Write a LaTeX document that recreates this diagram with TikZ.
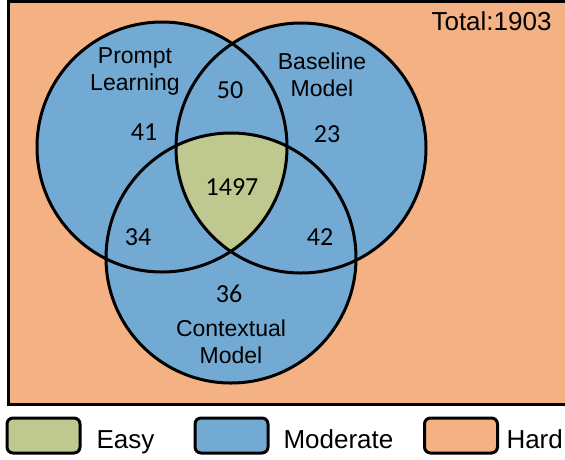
\documentclass[tikz,border=0pt]{standalone}
\usepackage{fontspec}
\setmainfont{Liberation Sans}
\newfontfamily\numfont{Carlito}
\usetikzlibrary{positioning}
\definecolor{hardc}{HTML}{F4B183}
\definecolor{modc}{HTML}{73AAD4}
\definecolor{easyc}{HTML}{BEC88F}

\tikzset{
  setc/.style={circle, fill=modc, minimum size=250pt, inner sep=0pt, outer sep=0pt},
  lbl/.style={align=center, font=\fontsize{23}{27}\selectfont, inner sep=0pt},
  num/.style={font=\numfont\fontsize{26}{30}\selectfont, inner sep=0pt},
  legbox/.style={draw, line width=3pt, rounded corners=6pt, minimum width=73pt,
    minimum height=35pt, inner sep=0pt},
  legtext/.style={font=\fontsize{26}{30}\selectfont, inner sep=0pt, anchor=base west},
}

\begin{document}
\begin{tikzpicture}[x=1pt, y=-1pt, line width=3pt]
    \useasboundingbox (0,0) rectangle (565,459);
    \clip (0,0) rectangle (565,459);
    \fill[white] (0,0) rectangle (565,459);

    % background (hard)
    \draw[fill=hardc] (8.5,1.5) rectangle (580,404);

    % Define sets
    \node[setc] (pl) at (162,147) {};
    \node[setc] (bm) at (301,148) {};
    \node[setc] (cm) at (231,258) {};

    % overlap of all three
    \begin{scope}
      \clip (pl.center) circle[radius=125pt];
      \clip (bm.center) circle[radius=125pt];
      \fill[easyc] (cm.center) circle[radius=125pt];
    \end{scope}

    % outlines
    \draw (pl.center) circle[radius=125pt];
    \draw (bm.center) circle[radius=125pt];
    \draw (cm.center) circle[radius=125pt];

    % set names
    \node[lbl] (pl-name) at (135,71) {Prompt\\Learning};
    \node[lbl] (bm-name) at (322,75) {Baseline\\Model};
    \node[lbl] (cm-name) at (231,342) {Contextual\\Model};

    % counts
    \node[num] (n-pl)  at (144,132) {41};
    \node[num] (n-bm)  at (327,134) {23};
    \node[num] (n-cm)  at (229,294) {36};
    \node[num] (n-plbm) at (230,90) {50};
    \node[num] (n-plcm) at (138,237) {34};
    \node[num] (n-bmcm) at (320,237) {42};
    \node[num] (n-all) at (232,187) {1497};

    \node[lbl, font=\fontsize{26}{30}\selectfont, anchor=base east] (total) at (553,30) {Total:1903};

    % legend
    \node[legbox, fill=easyc] (easy) at (43.5,435.5) {};
    \node[legtext] (easy-t) at (95,448) {Easy};
    \node[legbox, fill=modc] (moderate) at (231.5,435.5) {};
    \node[legtext] (moderate-t) at (282,448) {Moderate};
    \node[legbox, fill=hardc] (hard) at (461,435.5) {};
    \node[legtext] (hard-t) at (505,448) {Hard};
\end{tikzpicture}
\end{document}
